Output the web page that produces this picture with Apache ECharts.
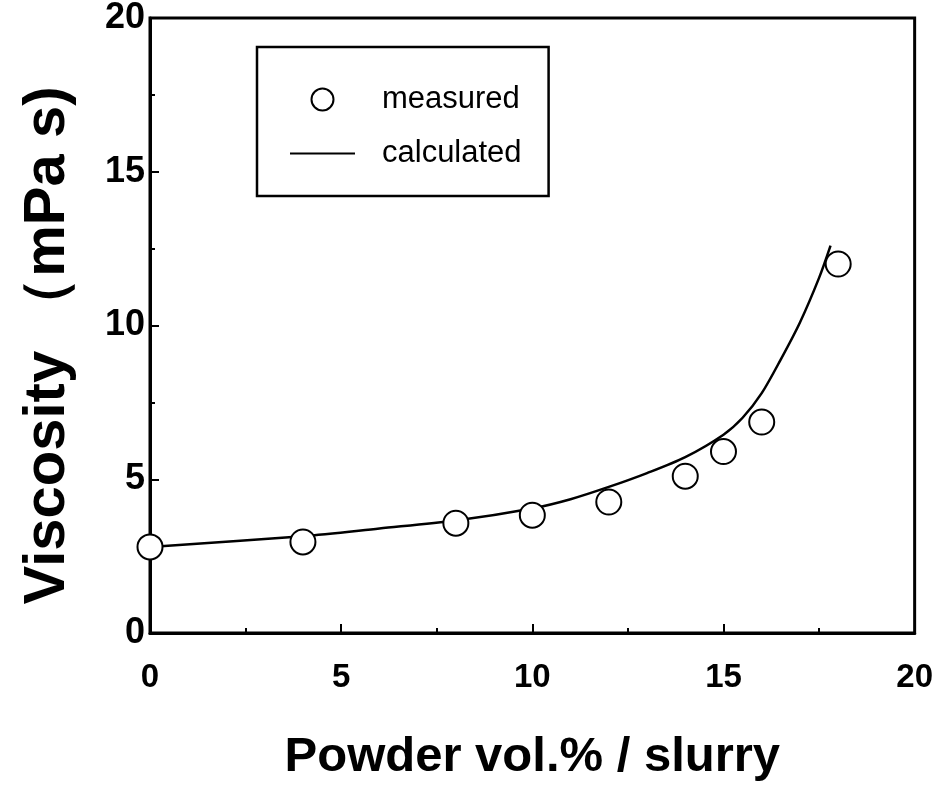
<!DOCTYPE html>
<html>
<head>
<meta charset="utf-8">
<script src="https://cdn.jsdelivr.net/npm/echarts@6/dist/echarts.min.js"></script>
<style>
html,body{margin:0;padding:0;background:#fff;}
#chart{width:936px;height:787px;}
</style>
</head>
<body>
<div id="chart"></div>
<script>
// Measured data
var measuredX = [0, 4, 8, 10, 12, 14, 15, 16, 18];
var measuredY = [2.8, 2.96, 3.57, 3.83, 4.26, 5.1, 5.9, 6.86, 12.0];
// Calculated curve
var calcX = [0, 4, 6, 8, 10, 11, 12, 13, 14, 15, 15.5, 16, 16.5, 17, 17.5, 17.8];
var calcY = [2.8, 3.15, 3.4, 3.66, 4.05, 4.35, 4.75, 5.2, 5.72, 6.45, 7.0, 7.8, 8.9, 10.1, 11.55, 12.6];
var xTicks = [0, 5, 10, 15, 20];
var yTicks = [0, 5, 10, 15, 20];

function pairs(xs, ys){ return xs.map(function(x,i){ return [x, ys[i]]; }); }

var font = '"Liberation Sans", Arial, Helvetica, sans-serif';
var chart = echarts.init(document.getElementById('chart'));
chart.setOption({
  backgroundColor: '#fff',
  animation: false,
  grid: { left: 150, right: 18, top: 17, bottom: 154, show: true, borderColor: '#000', borderWidth: 3, backgroundColor: 'transparent' },
  legend: {
    left: 257, top: 47,
    orient: 'vertical',
    itemWidth: 65, itemHeight: 22, itemGap: 23,
    padding: [37, 27, 27, 33],
    borderColor: '#000', borderWidth: 2.5,
    textStyle: { fontFamily: font, fontSize: 31, color: '#000', padding: [0, 0, 0, 22] },
    data: [
      { name: 'measured', icon: 'emptyCircle' },
      { name: 'calculated', icon: 'path://M0,0 L100,0 L100,3 L0,3 Z', itemStyle: { color: '#000' } }
    ]
  },
  xAxis: {
    type: 'value', min: xTicks[0], max: xTicks[xTicks.length-1], interval: 5,
    name: 'Powder vol.% / slurry', nameLocation: 'middle', nameGap: 100,
    nameTextStyle: { fontFamily: font, fontSize: 49, fontWeight: 'bold', color: '#000' },
    axisLine: { show: true, lineStyle: { color: '#000', width: 3 } },
    axisTick: { show: true, inside: true, length: 9, lineStyle: { color: '#000', width: 2 } },
    minorTick: { show: true, splitNumber: 2, length: 5, lineStyle: { color: '#000', width: 2 } },
    axisLabel: { margin: 28, fontFamily: font, fontSize: 33, fontWeight: 'bold', color: '#000' },
    splitLine: { show: false }
  },
  yAxis: {
    type: 'value', min: yTicks[0], max: yTicks[yTicks.length-1], interval: 5,
    name: 'Viscosity （mPa s)', nameLocation: 'middle', nameGap: 73, nameRotate: 90,
    nameTextStyle: { fontFamily: font, fontSize: 58, fontWeight: 'bold', color: '#000', padding: [0, 40, 0, 0] },
    axisLine: { show: true, lineStyle: { color: '#000', width: 3 } },
    axisTick: { show: true, inside: true, length: 9, lineStyle: { color: '#000', width: 2 } },
    minorTick: { show: true, splitNumber: 2, length: 5, lineStyle: { color: '#000', width: 2 } },
    axisLabel: { margin: 5, fontFamily: font, fontSize: 36, fontWeight: 'bold', color: '#000' },
    splitLine: { show: false }
  },
  series: [
    {
      name: 'calculated', type: 'line', smooth: 0.3, showSymbol: false, symbol: 'none',
      data: pairs(calcX, calcY),
      lineStyle: { color: '#000', width: 2.5 }, itemStyle: { color: '#000' }, z: 2
    },
    {
      name: 'measured', type: 'scatter', symbol: 'emptyCircle', symbolSize: 25,
      data: pairs(measuredX, measuredY),
      itemStyle: { color: '#000', borderWidth: 2.5, opacity: 1 }, z: 3
    }
  ]
});
</script>
</body>
</html>
